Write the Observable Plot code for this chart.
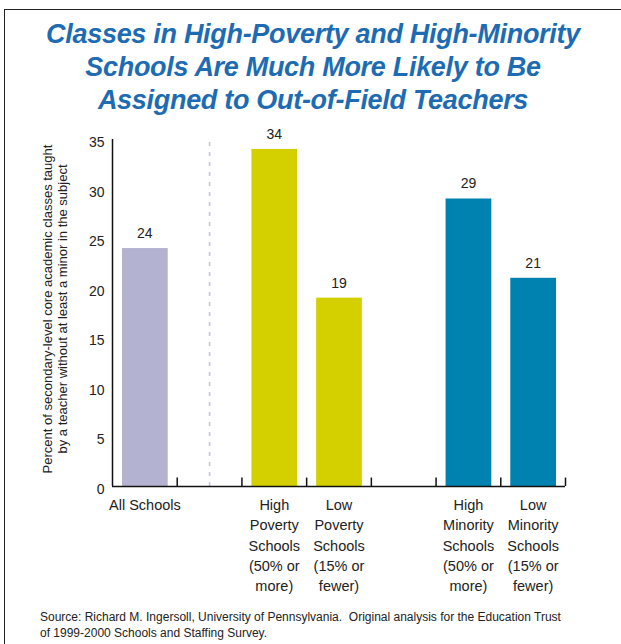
<!DOCTYPE html>
<html>
<head>
<meta charset="utf-8">
<script src="https://cdn.jsdelivr.net/npm/d3@7"></script>
<script src="https://cdn.jsdelivr.net/npm/@observablehq/plot@0.6"></script>
<style>
  html, body { margin: 0; padding: 0; background: #fff; }
  #wrap { position: relative; width: 621px; height: 644px; overflow: hidden; font-family: "Liberation Sans", Arial, sans-serif; }
  #frame { position: absolute; left: 4px; top: 9px; width: 700px; height: 700px; border-left: 1.5px solid #222; border-top: 1.5px solid #222; }
  #title { position: absolute; left: 8px; width: 610px; top: 18px; text-align: center; color: #1d6cb3; font-style: italic; font-weight: bold; font-size: 27px; line-height: 33px; letter-spacing: -0.3px; }
  #source { position: absolute; left: 40px; top: 609px; font-size: 12px; line-height: 16px; color: #222; }
  #chart { position: absolute; left: 0; top: 0; }
</style>
</head>
<body>
<div id="wrap">
  <div id="frame"></div>
  <div id="chart"></div>
  <div id="title">Classes in High-Poverty and High-Minority<br>Schools Are Much More Likely to Be<br>Assigned to Out-of-Field Teachers</div>
  <div id="source">Source: Richard M. Ingersoll, University of Pennsylvania.&nbsp; Original analysis for the Education Trust<br>of 1999-2000 Schools and Staffing Survey.</div>
</div>
<script>
// Slots along the x axis (empty strings are spacer slots)
const categories = [
  "All Schools",
  "",
  "High\nPoverty\nSchools\n(50% or\nmore)",
  "Low\nPoverty\nSchools\n(15% or\nfewer)",
  "",
  "High\nMinority\nSchools\n(50% or\nmore)",
  "Low\nMinority\nSchools\n(15% or\nfewer)"
];
const values = [24, null, 34, 19, null, 29, 21];
const barColors = ["#b3b3d1", null, "#d4d000", "#d4d000", null, "#0082b0", "#0082b0"];
const yTicks = [0, 5, 10, 15, 20, 25, 30, 35];
const yTitle = "Percent of secondary-level core academic classes taught\nby a teacher without at least a minor in the subject";
const dividerSlot = 1;

const slots = categories.map((c, i) => ({i, label: c, value: values[i], color: barColors[i]}));
const bars = slots.filter(d => d.value != null);
const boundaries = d3.range(1, categories.length + 1);

const chart = Plot.plot({
  width: 621,
  height: 644,
  marginLeft: 112,
  marginRight: 56,
  marginTop: 139,
  marginBottom: 158,
  style: { fontFamily: "Liberation Sans, Arial, sans-serif", background: "transparent" },
  x: { type: "linear", domain: [0, categories.length], axis: null },
  y: { domain: [0, 35], axis: null },
  marks: [
    Plot.ruleX([dividerSlot + 0.5], { y1: 0, y2: 35, stroke: "#c4c4dd", strokeWidth: 1.6, strokeDasharray: "4,6" }),
    Plot.rectY(bars, { x1: d => d.i, x2: d => d.i + 1, y: "value", fill: "color", insetLeft: 10, insetRight: 9 }),
    Plot.text(bars, { x: d => d.i + 0.5, y: "value", text: d => String(d.value), dy: -15, fontSize: 14, fill: "#222" }),
    Plot.ruleX([0], { y1: 0, y2: 35, stroke: "#111", strokeWidth: 1.5 }),
    Plot.ruleY([0], { x1: 0, x2: categories.length, stroke: "#111", strokeWidth: 1.5 }),
    Plot.ruleX(boundaries, { x: d => d, y1: 0, y2: 0.85, stroke: "#111", strokeWidth: 1.5 }),
    Plot.text(yTicks, { x: 0, y: d => d, text: d => String(d), textAnchor: "end", dx: -8, dy: 3, fontSize: 14, fill: "#222" }),
    Plot.text(slots.filter(d => d.label), { x: d => d.i + 0.5, y: 0, text: "label", lineAnchor: "top", dy: 9, fontSize: 14.5, lineHeight: 1.4, fill: "#222" }),
    Plot.text([yTitle], { frameAnchor: "left", textAnchor: "middle", rotate: -90, dx: -58, dy: -4, fontSize: 13, lineHeight: 1.15, fill: "#222" })
  ]
});
document.getElementById("chart").appendChild(chart);
</script>
</body>
</html>
